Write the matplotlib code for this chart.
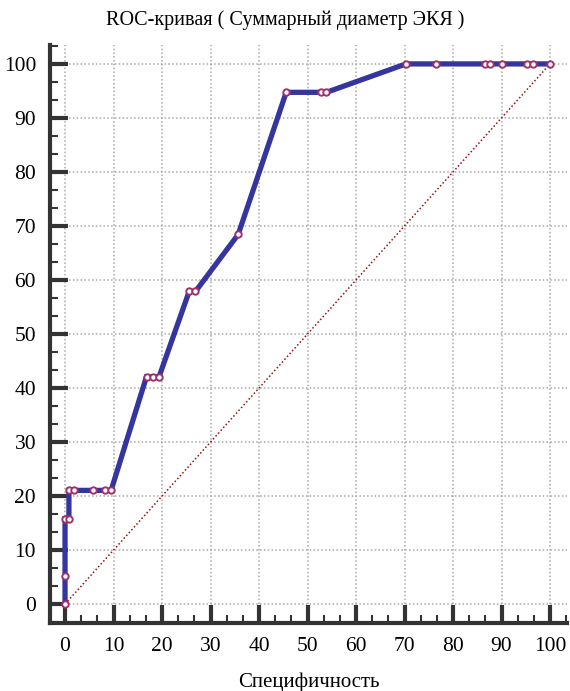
import matplotlib
matplotlib.use("Agg")
import matplotlib.pyplot as plt
from matplotlib.ticker import AutoMinorLocator

plt.rcParams['font.family'] = 'serif'
plt.rcParams['font.serif'] = ['Liberation Serif', 'DejaVu Serif']

# ROC points: 100 - specificity (%) vs sensitivity (%)
fpr = [0.0, 0.0, 0.0, 0.8, 0.8, 1.9, 5.7, 8.2, 9.5, 16.8, 18.1, 19.4,
       25.6, 26.9, 35.7, 45.6, 52.8, 53.9, 70.3, 76.5, 86.5, 87.7,
       90.2, 95.2, 96.4, 100.0]
tpr = [0.0, 5.26, 15.79, 15.79, 21.05, 21.05, 21.05, 21.05, 21.05,
       42.11, 42.11, 42.11, 57.89, 57.89, 68.42, 94.74, 94.74, 94.74,
       100.0, 100.0, 100.0, 100.0, 100.0, 100.0, 100.0, 100.0]
diag = [0, 100]
ticks = list(range(0, 101, 10))

title = "ROC-кривая ( Суммарный диаметр ЭКЯ )"
xlabel = "Специфичность"

fig = plt.figure(figsize=(5.7, 6.91), dpi=100)
ax = fig.add_axes([50 / 570, 1 - 623 / 691, 517 / 570, 578 / 691])

ax.plot(diag, diag, color='#9b1010', lw=1.1, ls=(0, (1, 1.5)), zorder=2)
ax.plot(fpr, tpr, color='#3535a0', lw=3.8, solid_joinstyle='miter', zorder=3)
ax.plot(fpr, tpr, ls='none', marker='o', ms=4.6, mfc='white',
        mec='#a0306e', mew=1.4, zorder=4)

ax.set_xlim(-3.1, 103.5)
ax.set_ylim(-3.5, 103.5)

ax.set_xticks(ticks)
ax.set_yticks(ticks)
ax.set_xticklabels([str(t) for t in ticks], fontsize=15.5)
ax.set_yticklabels([str(t) for t in ticks], fontsize=15.5)
ax.xaxis.set_minor_locator(AutoMinorLocator(3))
ax.yaxis.set_minor_locator(AutoMinorLocator(3))

for s in ('top', 'right'):
    ax.spines[s].set_visible(False)
for s in ('left', 'bottom'):
    ax.spines[s].set_linewidth(3)
    ax.spines[s].set_color('#333333')

ax.tick_params(which='major', direction='in', length=13, width=3,
               color='#333333', pad=10)
ax.tick_params(which='minor', direction='in', length=6, width=1.5,
               color='#333333')

ax.grid(which='major', color='#a8a8a8', ls=(0, (1, 1.5)), lw=1.1)
ax.set_axisbelow(True)

fig.text(0.5, 1 - 20 / 691, title, ha='center', va='center', fontsize=14.5)
ax.set_xlabel(xlabel, fontsize=15, labelpad=12)

fig.savefig("out.png", dpi=100)
